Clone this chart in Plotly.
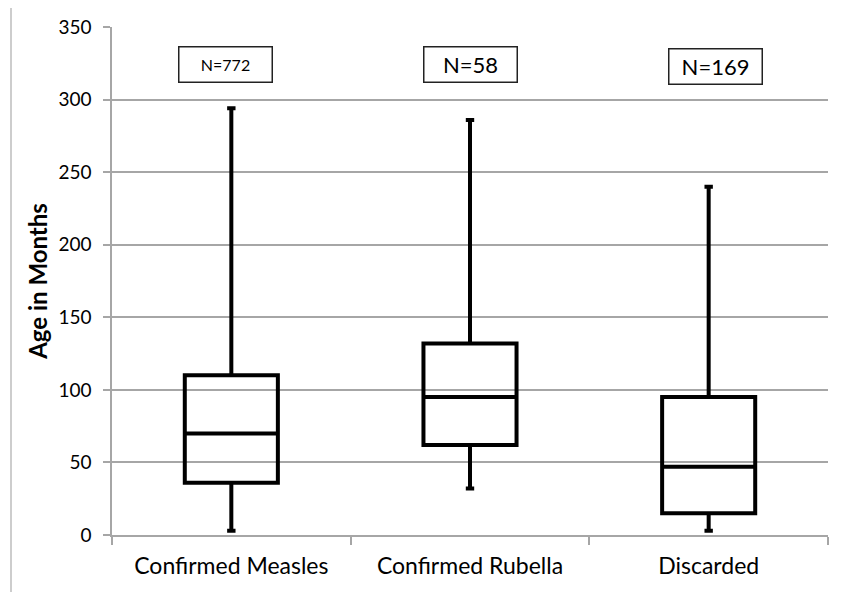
import plotly.graph_objects as go

categories = ["Confirmed Measles", "Confirmed Rubella", "Discarded"]
lower_whisker = [3, 32, 3]
q1_values = [36, 62, 15]
median_values = [70, 95, 47]
q3_values = [110, 132, 95]
upper_whisker = [294, 286, 240]
n_labels = ["N=772", "N=58", "N=169"]
n_font_sizes = [16, 22, 22]
n_label_x = [-0.023, 1.0, 2.028]
n_label_y = [324, 324.4, 322.8]

y_ticks = [0, 50, 100, 150, 200, 250, 300, 350]

# browser body has an 8px margin: size the figure for the visible window
OFF = 8
WIN_W, WIN_H = 848, 592
W, H = WIN_W - OFF, WIN_H - OFF
# plot area in window pixels: x 112..828, y 27..535
ml, mr, mt, mb = 112 - OFF, WIN_W - 828, 27 - OFF, WIN_H - 535
pw, ph = W - ml - mr, H - mt - mb

fig = go.Figure()
fig.add_trace(go.Box(
    x=categories,
    q1=q1_values,
    median=median_values,
    q3=q3_values,
    lowerfence=lower_whisker,
    upperfence=upper_whisker,
    fillcolor="rgba(255,255,255,0)",
    line=dict(color="black", width=4),
    whiskerwidth=0.09,
    boxpoints=False,
    hoverinfo="skip",
    showlegend=False,
))

font_family = "Lato"

for txt, fs, xx, yy in zip(n_labels, n_font_sizes, n_label_x, n_label_y):
    fig.add_annotation(
        x=xx, y=yy, xref="x", yref="y",
        text=txt, showarrow=False,
        font=dict(family=font_family, size=fs, color="black"),
        width=92, height=34, borderpad=0,
        bordercolor="#222222", borderwidth=1.5,
        bgcolor="white", valign="middle", align="center",
    )

# outer frame lines (top and left), given in window pixels
def px_to_paper_x(px):
    return (px - OFF - ml) / pw

def px_to_paper_y(py):
    return (H - mb - (py - OFF)) / ph

fig.add_shape(type="line", xref="paper", yref="paper",
              x0=px_to_paper_x(11), x1=px_to_paper_x(WIN_W + 10),
              y0=px_to_paper_y(6.5), y1=px_to_paper_y(6.5),
              line=dict(color="#bdbdbd", width=1.5))
fig.add_shape(type="line", xref="paper", yref="paper",
              x0=px_to_paper_x(11), x1=px_to_paper_x(11),
              y0=px_to_paper_y(6.5), y1=px_to_paper_y(WIN_H + 10),
              line=dict(color="#bdbdbd", width=1.5))

fig.update_layout(
    width=W, height=H,
    margin=dict(l=ml, r=mr, t=mt, b=mb, autoexpand=False),
    plot_bgcolor="white",
    paper_bgcolor="white",
    boxgap=0.61,
    boxgroupgap=0,
    font=dict(family=font_family, color="black"),
)

fig.update_xaxes(
    type="category",
    range=[-0.5, 2.5],
    showline=True, linecolor="#a6a6a6", linewidth=1.5,
    ticks="outside", tickson="boundaries", ticklen=8,
    tickcolor="#a6a6a6", tickwidth=1.5,
    showgrid=False,
    tickfont=dict(family=font_family, size=23, color="black"),
    ticklabelstandoff=10,
    automargin=False,
)

fig.update_yaxes(
    range=[0, 350],
    tickvals=y_ticks,
    showline=True, linecolor="#a6a6a6", linewidth=1.5,
    showgrid=True, gridcolor="#a6a6a6", gridwidth=1.5,
    ticks="outside", ticklen=7, tickcolor="#a6a6a6", tickwidth=1.5,
    zeroline=False,
    tickfont=dict(family=font_family, size=19, color="black"),
    ticklabelstandoff=8,
    automargin=False,
    title=dict(text="<b>Age in Months</b>",
               font=dict(family=font_family, size=24, color="black"),
               standoff=4),
)

fig.write_html("out.html")
